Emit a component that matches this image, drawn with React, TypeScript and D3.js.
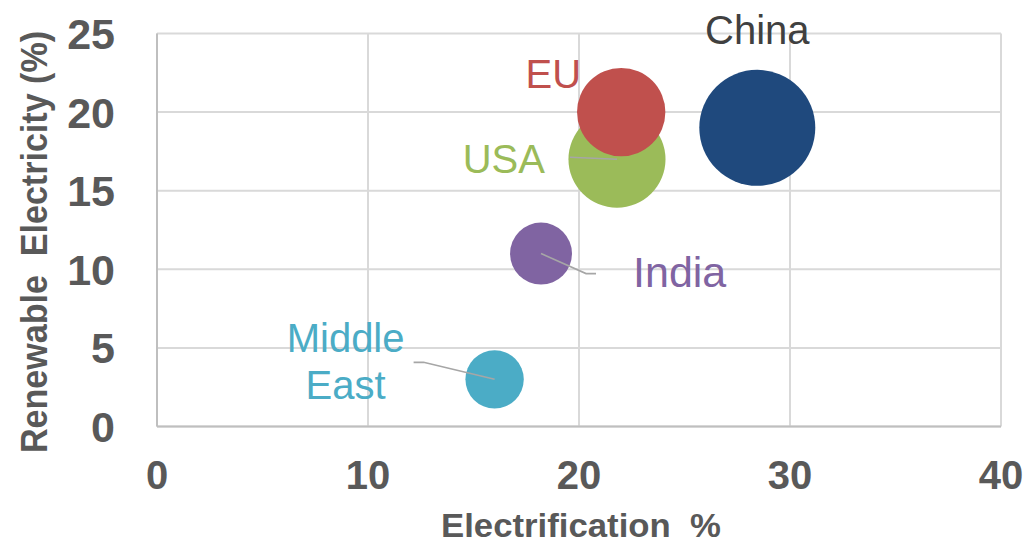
import React from "react";
import * as d3 from "d3";

// Regions plotted as bubbles
const regions = ["China", "EU", "USA", "India", "Middle East"];
const electrification = [28.45, 22.0, 21.8, 18.2, 16.0];
const renewableShare = [19.0, 20.0, 17.0, 11.0, 3.0];
const bubbleSize = [100, 58, 70, 28.5, 25.3];
const colors = ["#1f497d", "#c0504d", "#9bbb59", "#8064a2", "#4bacc6"];
const labelColors = ["#404040", "#c0504d", "#9bbb59", "#8064a2", "#4bacc6"];

const xTicks = [0, 10, 20, 30, 40];
const yTicks = [0, 5, 10, 15, 20, 25];

const W = 1028;
const H = 543;
const FONT = "'Liberation Sans', Arial, Helvetica, sans-serif";

export default function App() {
  const x = d3.scaleLinear().domain([0, 40]).range([157, 1001]);
  const y = d3.scaleLinear().domain([0, 25]).range([426.5, 33.5]);
  const r = d3.scaleSqrt().domain([0, d3.max(bubbleSize) as number]).range([0, 58]);

  const points = regions.map((name, i) => ({
    name,
    cx: x(electrification[i]),
    cy: y(renewableShare[i]),
    rad: r(bubbleSize[i]),
    color: colors[i],
    labelColor: labelColors[i],
    size: bubbleSize[i],
  }));
  const byName = Object.fromEntries(points.map((p) => [p.name, p]));
  // bigger bubbles first so smaller ones sit on top
  const drawOrder = [...points].sort((a, b) => b.size - a.size);

  const china = byName["China"];
  const eu = byName["EU"];
  const usa = byName["USA"];
  const india = byName["India"];
  const me = byName["Middle East"];

  const line = d3.line();
  const leaderStyle = { fill: "none", stroke: "#a6a6a6", strokeWidth: 1.6 };

  return (
    <svg
      width={W}
      height={H}
      style={{ position: "absolute", left: 0, top: 0, background: "#fff" }}
      fontFamily={FONT}
    >
      {/* grid */}
      {yTicks.map((t) => (
        <line key={"gy" + t} x1={x(0)} x2={x(40)} y1={y(t)} y2={y(t)} stroke="#d9d9d9" strokeWidth={2} />
      ))}
      {xTicks.map((t) => (
        <line key={"gx" + t} x1={x(t)} x2={x(t)} y1={y(0)} y2={y(25)} stroke="#d9d9d9" strokeWidth={2} />
      ))}
      {/* axes */}
      <line x1={x(0)} x2={x(0)} y1={y(0)} y2={y(25)} stroke="#bfbfbf" strokeWidth={2} />
      <line x1={x(0)} x2={x(40)} y1={y(0)} y2={y(0)} stroke="#bfbfbf" strokeWidth={2} />

      {/* tick labels */}
      {yTicks.map((t) => (
        <text
          key={"ty" + t}
          x={115}
          y={y(t) + 15.5}
          textAnchor="end"
          fontSize={43}
          fontWeight="bold"
          fill="#595959"
        >
          {t}
        </text>
      ))}
      {xTicks.map((t) => (
        <text
          key={"tx" + t}
          x={x(t)}
          y={489}
          textAnchor="middle"
          fontSize={40}
          fontWeight="bold"
          fill="#595959"
        >
          {t}
        </text>
      ))}

      {/* axis titles */}
      <text
        x={581}
        y={537}
        textAnchor="middle"
        fontSize={33}
        fontWeight="bold"
        fill="#595959"
        textLength={280}
        lengthAdjust="spacingAndGlyphs"
        style={{ whiteSpace: "pre" }}
      >
        {"Electrification  %"}
      </text>
      <text
        transform="translate(47,242) rotate(-90)"
        textAnchor="middle"
        fontSize={36}
        fontWeight="bold"
        fill="#595959"
        textLength={422}
        lengthAdjust="spacingAndGlyphs"
        style={{ whiteSpace: "pre" }}
      >
        {"Renewable  Electricity (%)"}
      </text>

      {/* bubbles */}
      {drawOrder.map((p) => (
        <circle key={p.name} cx={p.cx} cy={p.cy} r={p.rad} fill={p.color} />
      ))}

      {/* leader lines */}
      <path d={line([[usa.cx - 47, usa.cy - 2], [usa.cx, usa.cy]]) || ""} {...leaderStyle} />
      <path
        d={line([[india.cx, india.cy], [india.cx + 45, india.cy + 20], [india.cx + 55, india.cy + 20]]) || ""}
        {...leaderStyle}
      />
      <path
        d={line([[me.cx, me.cy], [me.cx - 71, me.cy - 17], [me.cx - 81, me.cy - 17]]) || ""}
        {...leaderStyle}
      />

      {/* data labels */}
      <text x={china.cx} y={china.cy - 84} textAnchor="middle" fontSize={40} fill={china.labelColor}>
        China
      </text>
      <text x={eu.cx - 40} y={eu.cy - 24} textAnchor="end" fontSize={40} fill={eu.labelColor}>
        EU
      </text>
      <text x={usa.cx - 72} y={usa.cy + 13.5} textAnchor="end" fontSize={40} fill={usa.labelColor}>
        USA
      </text>
      <text x={india.cx + 92} y={india.cy + 33} textAnchor="start" fontSize={43} fill={india.labelColor}>
        India
      </text>
      <text x={me.cx - 149} textAnchor="middle" fontSize={40} fill={me.labelColor}>
        <tspan x={me.cx - 149} y={me.cy - 27}>
          Middle
        </tspan>
        <tspan x={me.cx - 149} y={me.cy + 20}>
          East
        </tspan>
      </text>
    </svg>
  );
}
